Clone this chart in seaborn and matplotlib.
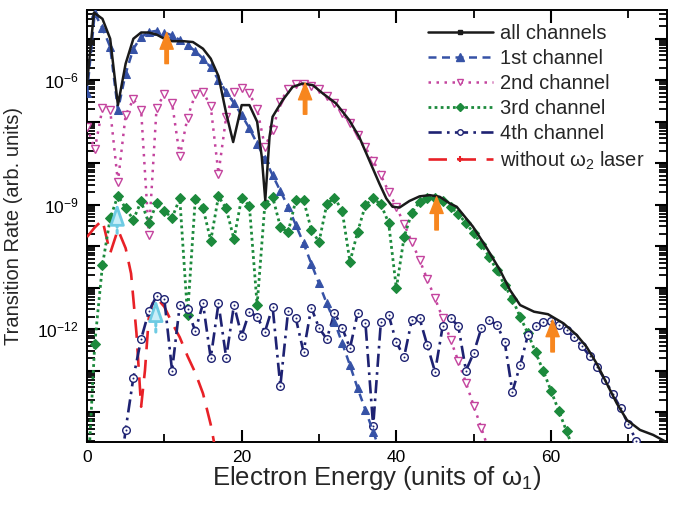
import matplotlib
matplotlib.use("Agg")
import matplotlib.pyplot as plt
from matplotlib.lines import Line2D
from matplotlib.ticker import FixedLocator, FuncFormatter, MultipleLocator, NullFormatter
import numpy as np
import seaborn as sns

# ---------------------------------------------------------------------------
# Data: log10 of transition rate
# ---------------------------------------------------------------------------
energy_all = [0, 0.9, 2, 3, 4, 5, 6, 7, 8, 9, 10, 11, 12.5, 13.7, 15, 16, 17, 18,
              18.9, 20, 21, 22, 22.6, 23.05, 23.6, 24, 25.3, 26.6, 27.9, 29.2, 30.5,
              32.2, 33.9, 35.2, 36.5, 37.8, 38.7, 39.5, 40.4, 41.7, 43, 44.3, 45.6,
              47, 47.8, 49.9, 51.6, 53.4, 54.7, 56, 57.8, 59.6, 61.6, 63.3, 64.6,
              65.9, 67.2, 68.5, 69.8, 71.5, 73.2, 74.8]
log_all = [-6.1, -4.37, -4.52, -5.0, -6.6, -5.6, -5.0, -4.85, -4.85, -4.9, -5.0,
           -5.06, -5.06, -5.08, -5.24, -5.48, -5.9, -6.8, -7.49, -6.6, -6.6, -7.0,
           -7.85, -8.89, -7.37, -6.88, -6.48, -6.16, -6.08, -6.12, -6.32, -6.56,
           -6.96, -7.37, -7.93, -8.49, -8.85, -9.05, -9.07, -8.91, -8.8, -8.77,
           -8.81, -8.98, -9.05, -9.53, -10.02, -10.58, -11.06, -11.42, -11.58,
           -11.64, -11.86, -12.14, -12.43, -12.83, -13.31, -13.79, -14.19, -14.43,
           -14.55, -14.71]

# channels sampled at integer energies starting from E = 0 (4th from E = 4)
log_ch1 = [-6.32, -4.39, -4.74, -5.20, -6.72, -5.84, -5.24, -4.96, -4.84, -4.81,
           -4.85, -4.92, -5.03, -5.15, -5.30, -5.48, -5.69, -5.99, -6.28, -6.55,
           -6.84, -7.16, -7.53, -7.89, -8.29, -8.67, -9.05, -9.49, -9.93, -10.42,
           -10.90, -11.38, -11.82, -12.34, -12.87, -13.43, -13.95, -14.47, -15.0]
log_ch2 = [-7.12, -7.67, -6.68, -6.72, -8.45, -6.84, -6.46, -6.72, -9.73, -6.66,
           -6.34, -6.55, -7.83, -6.90, -6.34, -6.28, -6.63, -8.25, -6.88, -6.28,
           -6.19, -6.32, -6.69, -7.6, -7.21, -6.52, -6.22, -6.10, -6.08, -6.14,
           -6.22, -6.39, -6.56, -6.79, -7.04, -7.33, -7.62, -7.94, -8.29, -8.69,
           -9.05, -9.47, -9.90, -10.33, -10.80, -11.26, -11.74, -12.25, -12.77,
           -13.29, -13.85, -14.39, -14.95]
log_ch3 = [-16.0, -12.36, -10.46, -9.33, -8.78, -9.09, -9.36, -8.92, -9.45, -8.97,
           -9.15, -9.32, -8.85, -11.66, -8.87, -9.07, -9.87, -8.80, -9.09, -9.83,
           -8.83, -9.03, -11.42, -8.99, -8.81, -9.53, -9.67, -8.89, -8.89, -9.60,
           -9.90, -8.99, -8.83, -9.15, -10.38, -9.65, -9.01, -8.85, -8.99, -9.44,
           -11.02, -9.78, -9.19, -8.93, -8.85, -8.85, -8.91, -9.05, -9.23, -9.44,
           -9.69, -9.95, -10.26, -10.58, -10.94, -11.28, -11.70, -12.10, -12.56,
           -13.01, -13.49, -13.97, -14.46, -14.95]
log_ch4 = [-15.9, -14.42, -13.17, -12.24, -11.57, -11.20, -11.28, -13.00, -11.42,
           -11.52, -12.05, -11.38, -12.70, -11.38, -12.69, -11.42, -12.16, -11.58,
           -11.70, -12.07, -11.46, -13.37, -11.57, -11.74, -12.55, -11.48, -11.97,
           -12.24, -11.61, -11.97, -12.46, -11.61, -11.85, -14.34, -11.82, -11.66,
           -12.32, -12.67, -11.78, -11.74, -12.39, -13.03, -11.92, -11.74, -11.92,
           -13.00, -12.57, -11.97, -11.78, -11.90, -12.30, -13.51, -12.87, -12.15,
           -11.93, -11.82, -11.81, -11.90, -12.02, -12.20, -12.41, -12.65, -12.92,
           -13.23, -13.57, -13.91, -14.29, -14.69, -15.1]
ch4_start = 4

energy_red = [0, 1, 2, 3, 4, 5, 5.7, 6.4, 7, 7.5, 8, 8.55, 9.07, 10, 11, 12, 13,
              14, 15, 16, 17]
log_red = [-9.78, -9.55, -9.37, -10.17, -9.6, -10.05, -10.66, -12.1, -13.87, -12.99,
           -11.7, -11.34, -11.26, -11.46, -11.85, -12.2, -12.65, -13.05, -13.55,
           -14.3, -15.3]

# arrows: (energy, log10 tip, log10 tail)
orange_arrows = [(10.3, -4.85, -5.60), (28.2, -6.07, -6.82),
                 (45.2, -8.81, -9.61), (60.2, -11.78, -12.55)]
# cyan arrows: (energy, log10 tip, log10 head base, log10 stem end)
cyan_arrows = [(3.9, -8.96, -9.29, -9.69), (8.9, -11.28, -11.70, -12.07)]

labels = ["all channels", "1st channel", "2nd channel", "3rd channel",
          "4th channel", "without ω$_\\mathregular{2}$ laser"]

# ---------------------------------------------------------------------------
# Style
# ---------------------------------------------------------------------------
sns.set_theme(style="ticks")
plt.rcParams.update({
    "font.family": ["Liberation Sans", "DejaVu Sans"],
    "mathtext.fontset": "custom",
    "mathtext.rm": "Liberation Sans",
    "mathtext.it": "Liberation Sans:italic",
    "axes.edgecolor": "black",
    "axes.linewidth": 1.4,
    "axes.axisbelow": False,
    "xtick.direction": "in",
    "ytick.direction": "in",
    "xtick.top": True,
    "ytick.right": True,
    "xtick.color": "black",
    "ytick.color": "black",
})

C_ALL = "#1a1a1a"
C_1 = "#3652A6"
C_2 = "#C4449E"
C_3 = "#1C8A3C"
C_4 = "#1E2272"
C_RED = "#E82127"
C_ORANGE = "#F7861E"
C_CYAN = "#6ECBE3"

fig, ax = plt.subplots(figsize=(6.87, 5.05), dpi=100)
fig.subplots_adjust(left=0.1266, right=0.971, bottom=0.1248, top=0.980)
ax.set_yscale("log")


def rate(vals):
    return 10.0 ** np.asarray(vals)


sns.lineplot(x=energy_all, y=rate(log_all), color=C_ALL, lw=1.8, marker="",
             estimator=None, sort=False, ax=ax, zorder=6)
sns.lineplot(x=np.arange(len(log_ch1)), y=rate(log_ch1), color=C_1, lw=1.8,
             linestyle=(0, (3.2, 2.2)), marker="^", ms=5.5, mec=C_1, mfc=C_1,
             estimator=None, ax=ax, zorder=5)
sns.lineplot(x=np.arange(len(log_ch2)), y=rate(log_ch2), color=C_2, lw=1.8,
             linestyle=(0, (1, 2.2)), marker="v", ms=6, mec=C_2, mfc="white",
             mew=1.0, estimator=None, ax=ax, zorder=4)
sns.lineplot(x=np.arange(len(log_ch3)), y=rate(log_ch3), color=C_3, lw=2.0,
             linestyle=(0, (1, 1.2)), marker="D", ms=5, mec=C_3, mfc=C_3,
             estimator=None, ax=ax, zorder=4)
e4 = np.arange(ch4_start, ch4_start + len(log_ch4))
sns.lineplot(x=e4, y=rate(log_ch4), color=C_4, lw=1.9,
             linestyle=(0, (5, 2, 1, 2)), marker="o", ms=5.5, mec=C_4, mfc="white",
             mew=1.0, estimator=None, ax=ax, zorder=4)
sns.scatterplot(x=e4, y=rate(log_ch4), color=C_4, s=2, linewidth=0, ax=ax, zorder=5)
sns.lineplot(x=energy_red, y=rate(log_red), color=C_RED, lw=1.9, marker="",
             linestyle=(0, (7, 4)), estimator=None, ax=ax, zorder=3)

# arrows marking peaks
for e, tip, tail in orange_arrows:
    ax.annotate("", xy=(e, 10 ** tip), xytext=(e, 10 ** tail),
                arrowprops=dict(arrowstyle="simple,head_length=1.2,head_width=0.95,tail_width=0.25",
                                color=C_ORANGE, shrinkA=0, shrinkB=0, mutation_scale=10),
                zorder=8)
for e, tip, base, stem in cyan_arrows:
    ax.annotate("", xy=(e, 10 ** base), xytext=(e, 10 ** stem),
                arrowprops=dict(arrowstyle="-", color=C_CYAN, lw=2.2, linestyle=(0, (1, 1)),
                                shrinkA=0, shrinkB=0), zorder=8)
    ax.annotate("", xy=(e, 10 ** tip), xytext=(e, 10 ** base),
                arrowprops=dict(arrowstyle="-|>,head_length=1.3,head_width=0.45",
                                ec=C_CYAN, fc="#C8EEF8", lw=2.0,
                                shrinkA=0, shrinkB=0, mutation_scale=10), zorder=8)

# axes
ax.set_xlim(0, 75)
ax.set_ylim(10 ** -14.72, 10 ** -4.31)
ax.xaxis.set_major_locator(MultipleLocator(20))
ax.xaxis.set_minor_locator(MultipleLocator(10))
decades = np.arange(-16, -3)
ax.yaxis.set_major_locator(FixedLocator(10.0 ** decades))
ax.yaxis.set_minor_locator(FixedLocator(
    [m * 10.0 ** d for d in decades for m in range(2, 10)]))
ax.yaxis.set_minor_formatter(NullFormatter())


def ylab(v, pos):
    p = int(round(np.log10(v)))
    return f"$\\mathregular{{10^{{{p}}}}}$" if p % 3 == 0 else ""


ax.yaxis.set_major_formatter(FuncFormatter(ylab))
ax.tick_params(which="major", length=9, width=1.5, color="black", labelsize=12.5, pad=6)
ax.tick_params(axis="both", which="minor", length=5.5, width=1.3, color="black")
ax.set_xlabel("Electron Energy (units of ω$_\\mathregular{1}$)", fontsize=18.5, labelpad=-1)
ax.set_ylabel("Transition Rate (arb. units)", fontsize=14.5, labelpad=10)
for s in ax.spines.values():
    s.set_color("black")

handles = [
    Line2D([], [], color=C_ALL, lw=1.8, marker="s", ms=3),
    Line2D([], [], color=C_1, lw=1.8, ls=(0, (3.2, 2.2)), marker="^", ms=5.5),
    Line2D([], [], color=C_2, lw=1.8, ls=(0, (1, 2.2)), marker="v", ms=5, mfc="white"),
    Line2D([], [], color=C_3, lw=2.0, ls=(0, (1, 1.2)), marker="D", ms=4),
    Line2D([], [], color=C_4, lw=1.9, ls=(0, (5, 2, 1, 2)), marker="o", ms=4, mfc="white"),
    Line2D([], [], color=C_RED, lw=1.9, ls=(0, (7, 4)), marker="+", ms=4, mew=1.5),
]
ax.legend(handles, labels, loc="upper right", bbox_to_anchor=(0.985, 1.0), frameon=False,
          fontsize=14.5, handlelength=3.2, handletextpad=0.35, labelspacing=0.3,
          borderaxespad=0.3)

fig.savefig("out.png", dpi=100)
